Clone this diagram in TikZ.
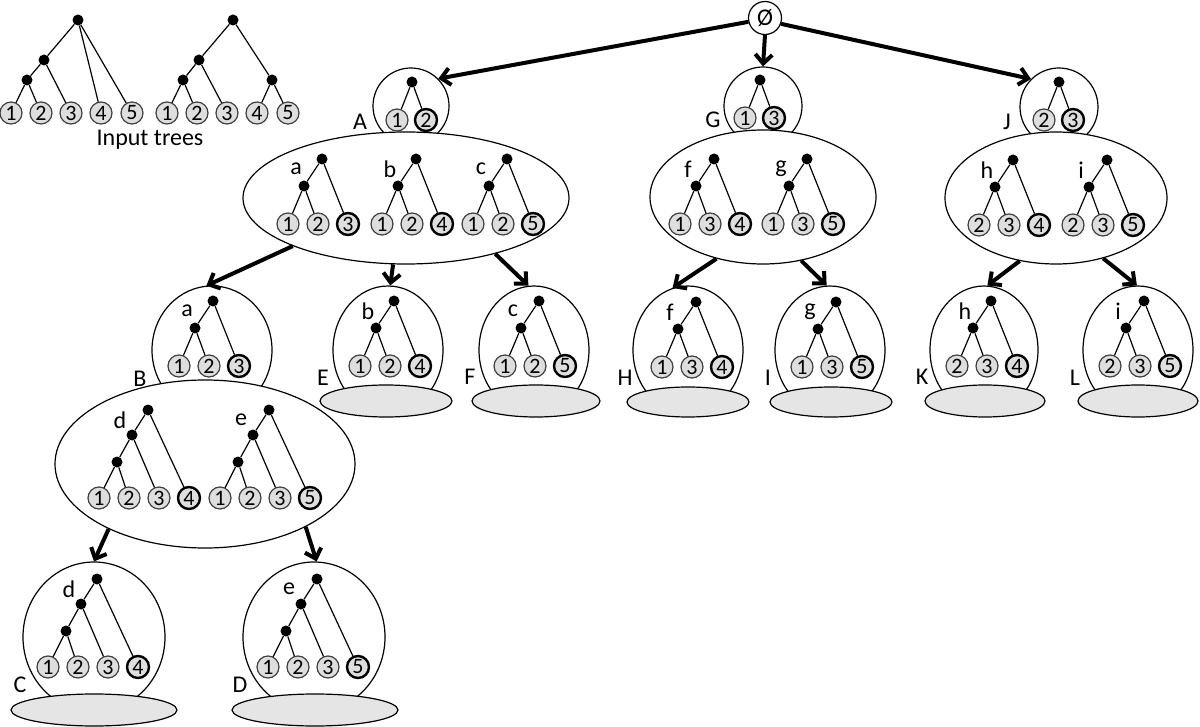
\documentclass[tikz,border=0pt]{standalone}
\usepackage{fontspec}
\setmainfont{Carlito}
\usetikzlibrary{arrows.meta,shapes.geometric}
\newcommand{\leaffont}{\fontsize{22}{24}\selectfont}
\newcommand{\tagfont}{\fontsize{24}{26}\selectfont}
\tikzset{
  leaf/.style={circle,draw=black!75,fill=black!13,line width=1.2pt,
              minimum size=22pt,inner sep=0pt,font=\leaffont},
  newleaf/.style={leaf,draw=black,line width=2.4pt},
  dot/.style={circle,fill=black,minimum size=11pt,inner sep=0pt},
  branch/.style={line width=1.2pt},
  bubble/.style={circle,draw,fill=white,line width=1.2pt,inner sep=0pt},
  egg/.style={ellipse,draw,fill=white,line width=1.2pt,inner sep=0pt},
  pool/.style={egg},
  plate/.style={ellipse,draw,fill=black!10,line width=1.2pt,inner sep=0pt},
  tag/.style={font=\tagfont,inner sep=0pt},
  move/.style={-{Straight Barb[length=9pt,width=17pt]},line width=4pt},
}
% two leaves under one dot
\newcommand{\treetwo}[5]{%
  \node[leaf] (#1-1) at (#2,#3) {#4};
  \node[newleaf] (#1-2) at ({#2+29},#3) {#5};
  \node[dot] (#1-r) at ({#2+15},{#3-38}) {};
  \draw[branch] (#1-r) -- (#1-1) (#1-r) -- (#1-2);
}
% three leaves, last one is the new one
\newcommand{\treethree}[7]{%
  \node[leaf] (#1-1) at (#2,#3) {#4};
  \node[leaf] (#1-2) at ({#2+30},#3) {#5};
  \node[newleaf] (#1-3) at ({#2+60},#3) {#6};
  \node[dot] (#1-n) at ({#2+16},{#3-38}) {};
  \node[dot] (#1-r) at ({#2+34},{#3-65}) {};
  \node[tag] (#1-t) at ({#2+8},{#3-55}) {#7};
  \draw[branch] (#1-r) -- (#1-n) (#1-r) -- (#1-3)
                (#1-n) -- (#1-1) (#1-n) -- (#1-2);
}
% four leaves 1 2 3 and a new one
\newcommand{\treefour}[5]{%
  \node[leaf] (#1-1) at (#2,#3) {1};
  \node[leaf] (#1-2) at ({#2+30},#3) {2};
  \node[leaf] (#1-3) at ({#2+60},#3) {3};
  \node[newleaf] (#1-4) at ({#2+90},#3) {#4};
  \node[dot] (#1-m) at ({#2+18},{#3-36}) {};
  \node[dot] (#1-n) at ({#2+33},{#3-63}) {};
  \node[dot] (#1-r) at ({#2+49},{#3-88}) {};
  \node[tag] (#1-t) at ({#2+21},{#3-78}) {#5};
  \draw[branch] (#1-r) -- (#1-n) (#1-r) -- (#1-4)
                (#1-n) -- (#1-m) (#1-n) -- (#1-3)
                (#1-m) -- (#1-1) (#1-m) -- (#1-2);
}

\begin{document}
\begin{tikzpicture}[x=1pt,y=-1pt]
  \useasboundingbox (0,0) rectangle (1200,727);

  % input trees
  \node[leaf] (in1-1) at (11,113) {1};
  \node[leaf] (in1-2) at (41,113) {2};
  \node[leaf] (in1-3) at (71,113) {3};
  \node[leaf] (in1-4) at (101,113) {4};
  \node[leaf] (in1-5) at (132,113) {5};
  \node[dot] (in1-r) at (78,20) {};
  \node[dot] (in1-n) at (44,60) {};
  \node[dot] (in1-m) at (27,80) {};
  \draw[branch] (in1-r) -- (in1-n) (in1-r) -- (in1-4) (in1-r) -- (in1-5)
                (in1-n) -- (in1-m) (in1-n) -- (in1-3)
                (in1-m) -- (in1-1) (in1-m) -- (in1-2);
  \node[leaf] (in2-1) at (167,113) {1};
  \node[leaf] (in2-2) at (197,113) {2};
  \node[leaf] (in2-3) at (227,113) {3};
  \node[leaf] (in2-4) at (257,113) {4};
  \node[leaf] (in2-5) at (288,113) {5};
  \node[dot] (in2-r) at (233,20) {};
  \node[dot] (in2-n) at (199,60) {};
  \node[dot] (in2-m) at (183,80) {};
  \node[dot] (in2-k) at (272,80) {};
  \draw[branch] (in2-r) -- (in2-n) (in2-r) -- (in2-k)
                (in2-n) -- (in2-m) (in2-n) -- (in2-3)
                (in2-m) -- (in2-1) (in2-m) -- (in2-2)
                (in2-k) -- (in2-4) (in2-k) -- (in2-5);
  \node[tag] (intext) at (150,140) {Input trees};

  % root of the search
  \node[bubble,minimum size=33pt,font=\tagfont] (empty) at (765,18) {Ø};

  % first level
  \node[bubble,minimum size=76pt] (Abub) at (411,106) {};
  \node[pool,minimum width=326pt,minimum height=132pt] (Apool) at (406,198) {};
  \node[bubble,minimum size=78pt] (Gbub) at (763,106) {};
  \node[pool,minimum width=226pt,minimum height=134pt] (Gpool) at (763,197) {};
  \node[bubble,minimum size=78pt] (Jbub) at (1059,107) {};
  \node[pool,minimum width=222pt,minimum height=132pt] (Jpool) at (1056,198) {};

  % second level
  \node[egg,minimum width=120pt,minimum height=128pt] (Begg) at (212,350) {};
  \node[pool,minimum width=300pt,minimum height=168pt] (Bpool) at (205,464) {};
  \node[egg,minimum width=110pt,minimum height=128pt] (Eegg) at (388,350) {};
  \node[plate,minimum width=132pt,minimum height=32pt] (Eplate) at (386,401) {};
  \node[egg,minimum width=110pt,minimum height=128pt] (Fegg) at (534,350) {};
  \node[plate,minimum width=128pt,minimum height=32pt] (Fplate) at (536,401) {};
  \node[egg,minimum width=110pt,minimum height=128pt] (Hegg) at (688,350) {};
  \node[plate,minimum width=122pt,minimum height=30pt] (Hplate) at (688,402) {};
  \node[egg,minimum width=110pt,minimum height=128pt] (Iegg) at (830,350) {};
  \node[plate,minimum width=122pt,minimum height=30pt] (Iplate) at (831,402) {};
  \node[egg,minimum width=108pt,minimum height=128pt] (Kegg) at (984,350) {};
  \node[plate,minimum width=120pt,minimum height=32pt] (Kplate) at (985,401) {};
  \node[egg,minimum width=110pt,minimum height=128pt] (Legg) at (1138,350) {};
  \node[plate,minimum width=120pt,minimum height=32pt] (Lplate) at (1138,401) {};

  % third level
  \node[egg,minimum width=142pt,minimum height=150pt] (Cegg) at (94,637) {};
  \node[plate,minimum width=166pt,minimum height=32pt] (Cplate) at (94,710) {};
  \node[egg,minimum width=142pt,minimum height=150pt] (Degg) at (314,637) {};
  \node[plate,minimum width=166pt,minimum height=32pt] (Dplate) at (315,710) {};

  % trees
  \treetwo{Atr}{397}{120}{1}{2}
  \treetwo{Gtr}{745}{118}{1}{3}
  \treetwo{Jtr}{1044}{120}{2}{3}
  \treethree{Aa}{288}{224}{1}{2}{3}{a}
  \treethree{Ab}{382}{224}{1}{2}{4}{b}
  \treethree{Ac}{473}{224}{1}{2}{5}{c}
  \treethree{Gf}{680}{224}{1}{3}{4}{f}
  \treethree{Gg}{773}{224}{1}{3}{5}{g}
  \treethree{Jh}{979}{225}{2}{3}{4}{h}
  \treethree{Ji}{1073}{225}{2}{3}{5}{i}
  \treethree{Ba}{179}{366}{1}{2}{3}{a}
  \treethree{Eb}{360}{366}{1}{2}{4}{b}
  \treethree{Fc}{505}{366}{1}{2}{5}{c}
  \treethree{Hf}{662}{367}{1}{3}{4}{f}
  \treethree{Ig}{802}{367}{1}{3}{5}{g}
  \treethree{Kh}{957}{366}{2}{3}{4}{h}
  \treethree{Li}{1110}{366}{2}{3}{5}{i}
  \treefour{Bd}{99}{498}{4}{d}
  \treefour{Be}{220}{498}{5}{e}
  \treefour{Cd}{48}{667}{4}{d}
  \treefour{De}{268}{667}{5}{e}

  % state names
  \node[tag] (tA) at (360,122) {A};
  \node[tag] (tG) at (713,120) {G};
  \node[tag] (tJ) at (1007,122) {J};
  \node[tag] (tB) at (140,379) {B};
  \node[tag] (tE) at (323,378) {E};
  \node[tag] (tF) at (470,377) {F};
  \node[tag] (tH) at (625,378) {H};
  \node[tag] (tI) at (768,378) {I};
  \node[tag] (tK) at (922,377) {K};
  \node[tag] (tL) at (1075,378) {L};
  \node[tag] (tC) at (20,685) {C};
  \node[tag] (tD) at (240,685) {D};

  % search steps
  \draw[move] (empty.193) -- (Abub.45);
  \draw[move] (empty.south) -- (Gbub.north);
  \draw[move] (empty.340) -- (Jbub.135);
  \draw[move] (Apool.203) -- (Begg.95);
  \draw[move] (Apool.259) -- (Eegg.88);
  \draw[move] (Apool.328) -- (Fegg.95);
  \draw[move] (Gpool.233) -- (Hegg.104);
  \draw[move] (Gpool.301) -- (Iegg.93);
  \draw[move] (Jpool.240) -- (Kegg.87);
  \draw[move] (Jpool.308) -- (Legg.91);
  \draw[move] (Bpool.214) -- (Cegg.north);
  \draw[move] (Bpool.328) -- (Degg.88);
\end{tikzpicture}
\end{document}
